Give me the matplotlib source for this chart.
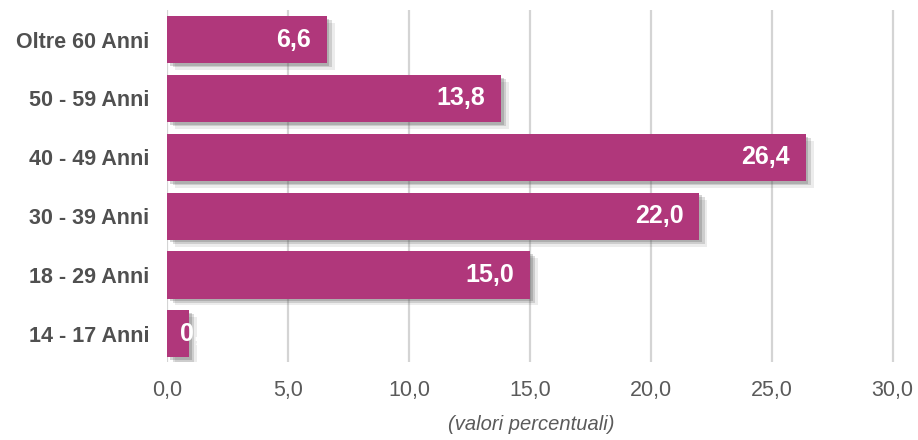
import matplotlib.pyplot as plt
import matplotlib.patheffects as pe
from matplotlib.ticker import FuncFormatter

fasce = ['14 - 17 Anni', '18 - 29 Anni', '30 - 39 Anni',
         '40 - 49 Anni', '50 - 59 Anni', 'Oltre 60 Anni']
valori = [0.9, 15.0, 22.0, 26.4, 13.8, 6.6]
ticks_x = [0, 5, 10, 15, 20, 25, 30]

plt.rcParams['font.family'] = ['Liberation Sans', 'DejaVu Sans']

bar_color = '#B0377B'
fig = plt.figure(figsize=(9.18, 4.4), dpi=100)
ax = fig.add_axes([0.182, 0.177, 0.793, 0.8])

# vertical grid
for t in ticks_x:
    ax.axvline(t, color='#d4d4d4', lw=1.6, zorder=0)

# soft drop shadow under each bar
shadow = [pe.SimplePatchShadow(offset=(6, -5), shadow_rgbFace='#666666', alpha=0.12),
          pe.SimplePatchShadow(offset=(4, -3), shadow_rgbFace='#555555', alpha=0.2),
          pe.SimplePatchShadow(offset=(2, -2), shadow_rgbFace='#555555', alpha=0.25),
          pe.Normal()]
bars = ax.barh(range(len(fasce)), valori, height=0.8, color=bar_color, zorder=2)
for b in bars:
    b.set_path_effects(shadow)

# value labels inside the bars
for i, v in enumerate(valori):
    txt = f'{v:.1f}'.replace('.', ',')
    if v < 2:
        ax.text(0.55, i, txt, ha='left', va='center', color='white',
                fontsize=18, fontweight='bold', zorder=3)
    else:
        ax.text(v - 0.65, i, txt, ha='right', va='center', color='white',
                fontsize=18, fontweight='bold', zorder=3)

ax.set_xlim(0, 30.1)
ax.set_ylim(-0.48, 5.5)
ax.set_xticks(ticks_x)
ax.xaxis.set_major_formatter(FuncFormatter(lambda x, p: f'{x:.1f}'.replace('.', ',')))
ax.set_yticks(range(len(fasce)))
ax.set_yticklabels(fasce, fontsize=15.5, fontweight='bold', color='#505050')
ax.tick_params(axis='x', length=0, pad=13, labelsize=15.5, labelcolor='#5a5a5a')
ax.tick_params(axis='y', length=0, pad=13)
for s in ax.spines.values():
    s.set_visible(False)

ax.set_xlabel('(valori percentuali)', fontsize=14.5, style='italic',
              color='#5a5a5a', labelpad=10)

fig.savefig('out.png', dpi=100)
